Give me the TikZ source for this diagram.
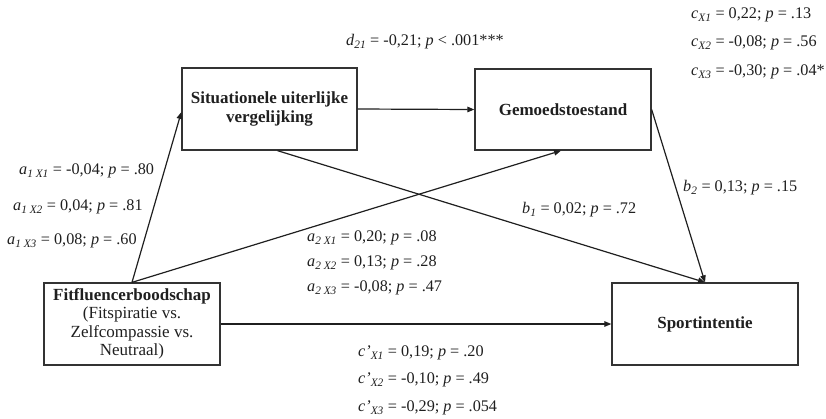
\documentclass[tikz,border=0pt]{standalone}
\usepackage{fontspec}
\setmainfont{Liberation Serif}
\usetikzlibrary{arrows.meta,calc}
\newcommand{\sbs}[1]{\textsubscript{\textit{#1}}}
\begin{document}
\begin{tikzpicture}[x=1bp,y=-1bp,
  every node/.style={font=\fontsize{17bp}{18.5bp}\selectfont, text=black!88},
  box/.style={draw=black!80, line width=1.3bp, align=center, inner sep=0pt},
  arr/.style={draw=black!88, line width=1.2bp, -{Triangle[length=7bp,width=5.5bp]}},
  lab/.style={anchor=west, inner sep=0pt, font=\fontsize{16.2bp}{18bp}\selectfont}]
\useasboundingbox (0,0) rectangle (826,418);
\node[box, minimum width=175bp, minimum height=82bp, font=\fontsize{17bp}{18.5bp}\selectfont\bfseries] (SUV) at (269.5,109) {Situationele uiterlijke\\vergelijking};
\node[box, minimum width=176bp, minimum height=81bp, font=\fontsize{17bp}{18.5bp}\selectfont\bfseries] (GEM) at (563,109.5) {Gemoedstoestand};
\node[box, minimum width=176bp, minimum height=82bp] (FIT) at (132,324) {\textbf{Fitfluencerboodschap}\\(Fitspiratie vs.\\Zelfcompassie vs.\\Neutraal)};
\node[box, minimum width=186bp, minimum height=82bp, font=\fontsize{17bp}{18.5bp}\selectfont\bfseries] (SPO) at (705,324) {Sportintentie};
\coordinate (SUVb) at ($(SUV.south)+(8,0)$);
\coordinate (GEMb) at ($(GEM.south)+(-2,0)$);
\coordinate (SUVw) at ($(SUV.west)+(0,3)$);
\draw[arr] (FIT.north) -- (SUVw);
\draw[arr] (FIT.north) -- (GEMb);
\draw[arr] (SUV.east) -- (GEM.west);
\draw[arr] (SUVb) -- (SPO.north);
\draw[arr] (GEM.east) -- (SPO.north);
\draw[arr] (FIT.east) -- (SPO.west);
% labels
\node[lab] (d21) at (346,42) {\textit{d}\sbs{21} = -0,21; \textit{p} < .001***};
\node[lab] (cx1) at (691,15) {\textit{c}\sbs{X1} = 0,22; \textit{p} = .13};
\node[lab] (cx2) at (691,43) {\textit{c}\sbs{X2} = -0,08; \textit{p} = .56};
\node[lab] (cx3) at (691,72) {\textit{c}\sbs{X3} = -0,30; \textit{p} = .04*};
\node[lab] (a11) at (19,171) {\textit{a}\sbs{1 X1} = -0,04; \textit{p} = .80};
\node[lab] (a12) at (13,207) {\textit{a}\sbs{1 X2} = 0,04; \textit{p} = .81};
\node[lab] (a13) at (7,241) {\textit{a}\sbs{1 X3} = 0,08; \textit{p} = .60};
\node[lab] (a21) at (307,238) {\textit{a}\sbs{2 X1} = 0,20; \textit{p} = .08};
\node[lab] (a22) at (307,263) {\textit{a}\sbs{2 X2} = 0,13; \textit{p} = .28};
\node[lab] (a23) at (307,288) {\textit{a}\sbs{2 X3} = -0,08; \textit{p} = .47};
\node[lab] (b1) at (522,210) {\textit{b}\sbs{1} = 0,02; \textit{p} = .72};
\node[lab] (b2) at (683,188) {\textit{b}\sbs{2} = 0,13; \textit{p} = .15};
\node[lab] (cp1) at (358,353) {\textit{c'}\sbs{X1} = 0,19; \textit{p} = .20};
\node[lab] (cp2) at (358,380) {\textit{c'}\sbs{X2} = -0,10; \textit{p} = .49};
\node[lab] (cp3) at (358,408) {\textit{c'}\sbs{X3} = -0,29; \textit{p} = .054};
\end{tikzpicture}
\end{document}
